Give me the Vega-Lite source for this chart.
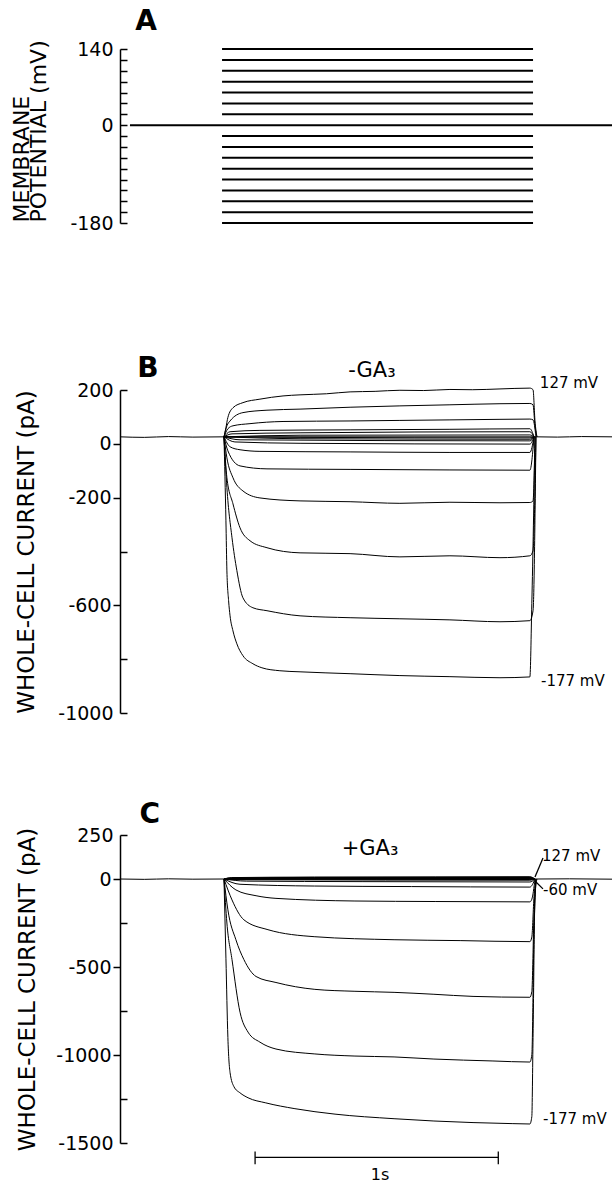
{
"$schema": "https://vega.github.io/schema/vega-lite/v6.json",
"width": 492, "height": 1183,
"autosize": {"type": "none"},
"padding": {"left": 120, "top": 0, "right": 4, "bottom": 0},
"background": "white",
"config": {
 "view": {"stroke": null},
 "axis": {"grid": false, "domainColor": "black", "domainWidth": 1.5, "tickColor": "black", "tickWidth": 1.5, "tickSize": -7, "labelPadding": 14, "labelColor": "black", "labelFont": "DejaVu Sans", "labelFontSize": 19, "labelOverlap": false, "labelFlush": false, "titleFont": "DejaVu Sans", "titleFontSize": 23, "titleFontWeight": "normal", "titleColor": "black"}
},
"datasets": {
 "stepsA": [
  {"v":140,"t1":420,"t2":1700},{"v":120,"t1":420,"t2":1700},{"v":100,"t1":420,"t2":1700},{"v":80,"t1":420,"t2":1700},{"v":60,"t1":420,"t2":1700},{"v":40,"t1":420,"t2":1700},{"v":20,"t1":420,"t2":1700},{"v":0,"t1":41,"t2":2025},{"v":-20,"t1":420,"t2":1700},{"v":-40,"t1":420,"t2":1700},{"v":-60,"t1":420,"t2":1700},{"v":-80,"t1":420,"t2":1700},{"v":-100,"t1":420,"t2":1700},{"v":-120,"t1":420,"t2":1700},{"v":-140,"t1":420,"t2":1700},{"v":-160,"t1":420,"t2":1700},{"v":-180,"t1":420,"t2":1700}
 ],
 "tracesB": [
  {"k":"base","t":0,"i":26},{"k":"base","t":100,"i":24},{"k":"base","t":200,"i":27},{"k":"base","t":300,"i":25},{"k":"base","t":428,"i":26},{"k":"base","t":1716,"i":26},{"k":"base","t":1800,"i":25},{"k":"base","t":1900,"i":27},{"k":"base","t":2025,"i":26},
  {"k":"p127","t":428,"i":26},{"k":"p127","t":436,"i":60},{"k":"p127","t":444,"i":98},{"k":"p127","t":465,"i":134},{"k":"p127","t":506,"i":153},{"k":"p127","t":576,"i":166},{"k":"p127","t":671,"i":178},{"k":"p127","t":741,"i":182},{"k":"p127","t":850,"i":186},{"k":"p127","t":947,"i":193},{"k":"p127","t":1050,"i":195},{"k":"p127","t":1152,"i":199},{"k":"p127","t":1250,"i":198},{"k":"p127","t":1358,"i":202},{"k":"p127","t":1450,"i":201},{"k":"p127","t":1564,"i":204},{"k":"p127","t":1687,"i":207},{"k":"p127","t":1700,"i":201},{"k":"p127","t":1708,"i":85},{"k":"p127","t":1716,"i":26},
  {"k":"p108","t":428,"i":26},{"k":"p108","t":440,"i":67},{"k":"p108","t":453,"i":85},{"k":"p108","t":506,"i":116},{"k":"p108","t":605,"i":125},{"k":"p108","t":741,"i":129},{"k":"p108","t":947,"i":136},{"k":"p108","t":1152,"i":141},{"k":"p108","t":1358,"i":145},{"k":"p108","t":1564,"i":149},{"k":"p108","t":1687,"i":150},{"k":"p108","t":1700,"i":145},{"k":"p108","t":1708,"i":67},{"k":"p108","t":1716,"i":26},
  {"k":"p89","t":428,"i":26},{"k":"p89","t":444,"i":56},{"k":"p89","t":465,"i":67},{"k":"p89","t":535,"i":75},{"k":"p89","t":671,"i":83},{"k":"p89","t":947,"i":85},{"k":"p89","t":1152,"i":87},{"k":"p89","t":1358,"i":89},{"k":"p89","t":1564,"i":91},{"k":"p89","t":1687,"i":92},{"k":"p89","t":1700,"i":89},{"k":"p89","t":1712,"i":26},
  {"k":"p70","t":428,"i":26},{"k":"p70","t":453,"i":45},{"k":"p70","t":576,"i":50},{"k":"p70","t":947,"i":52},{"k":"p70","t":1358,"i":54},{"k":"p70","t":1687,"i":56},{"k":"p70","t":1704,"i":26},
  {"k":"p51","t":428,"i":26},{"k":"p51","t":461,"i":37},{"k":"p51","t":741,"i":41},{"k":"p51","t":1687,"i":45},{"k":"p51","t":1704,"i":26},
  {"k":"p32","t":428,"i":26},{"k":"p32","t":741,"i":32},{"k":"p32","t":1687,"i":33},{"k":"p32","t":1704,"i":26},
  {"k":"p13","t":428,"i":26},{"k":"p13","t":741,"i":24},{"k":"p13","t":1687,"i":22},{"k":"p13","t":1704,"i":26},
  {"k":"m6","t":428,"i":26},{"k":"m6","t":741,"i":19},{"k":"m6","t":1687,"i":17},{"k":"m6","t":1704,"i":26},
  {"k":"m25","t":428,"i":26},{"k":"m25","t":494,"i":15},{"k":"m25","t":1687,"i":11},{"k":"m25","t":1704,"i":26},
  {"k":"m44","t":428,"i":26},{"k":"m44","t":473,"i":7},{"k":"m44","t":741,"i":2},{"k":"m44","t":1687,"i":-1},{"k":"m44","t":1704,"i":26},
  {"k":"m63","t":428,"i":26},{"k":"m63","t":453,"i":-11},{"k":"m63","t":494,"i":-22},{"k":"m63","t":576,"i":-28},{"k":"m63","t":947,"i":-30},{"k":"m63","t":1358,"i":-32},{"k":"m63","t":1687,"i":-32},{"k":"m63","t":1704,"i":26},
  {"k":"m82","t":428,"i":26},{"k":"m82","t":444,"i":-26},{"k":"m82","t":494,"i":-82},{"k":"m82","t":605,"i":-93},{"k":"m82","t":947,"i":-95},{"k":"m82","t":1358,"i":-97},{"k":"m82","t":1687,"i":-98},{"k":"m82","t":1704,"i":26},
  {"k":"m101","t":428,"i":26},{"k":"m101","t":440,"i":-52},{"k":"m101","t":465,"i":-126},{"k":"m101","t":506,"i":-175},{"k":"m101","t":576,"i":-201},{"k":"m101","t":741,"i":-212},{"k":"m101","t":947,"i":-215},{"k":"m101","t":1152,"i":-221},{"k":"m101","t":1358,"i":-217},{"k":"m101","t":1564,"i":-219},{"k":"m101","t":1687,"i":-218},{"k":"m101","t":1700,"i":-212},{"k":"m101","t":1708,"i":26},
  {"k":"m120","t":428,"i":26},{"k":"m120","t":440,"i":-126},{"k":"m120","t":465,"i":-223},{"k":"m120","t":494,"i":-312},{"k":"m120","t":535,"i":-360},{"k":"m120","t":605,"i":-386},{"k":"m120","t":741,"i":-405},{"k":"m120","t":947,"i":-408},{"k":"m120","t":1152,"i":-420},{"k":"m120","t":1358,"i":-416},{"k":"m120","t":1564,"i":-423},{"k":"m120","t":1687,"i":-416},{"k":"m120","t":1700,"i":-397},{"k":"m120","t":1712,"i":26},
  {"k":"m139","t":428,"i":26},{"k":"m139","t":440,"i":-163},{"k":"m139","t":461,"i":-349},{"k":"m139","t":481,"i":-471},{"k":"m139","t":506,"i":-572},{"k":"m139","t":547,"i":-609},{"k":"m139","t":605,"i":-620},{"k":"m139","t":741,"i":-639},{"k":"m139","t":947,"i":-646},{"k":"m139","t":1152,"i":-650},{"k":"m139","t":1358,"i":-654},{"k":"m139","t":1564,"i":-661},{"k":"m139","t":1687,"i":-657},{"k":"m139","t":1700,"i":-620},{"k":"m139","t":1712,"i":26},
  {"k":"m177","t":428,"i":26},{"k":"m177","t":436,"i":-286},{"k":"m177","t":440,"i":-472},{"k":"m177","t":447,"i":-583},{"k":"m177","t":453,"i":-639},{"k":"m177","t":465,"i":-695},{"k":"m177","t":481,"i":-743},{"k":"m177","t":506,"i":-787},{"k":"m177","t":547,"i":-817},{"k":"m177","t":584,"i":-832},{"k":"m177","t":658,"i":-843},{"k":"m177","t":741,"i":-847},{"k":"m177","t":947,"i":-854},{"k":"m177","t":1152,"i":-861},{"k":"m177","t":1358,"i":-865},{"k":"m177","t":1564,"i":-869},{"k":"m177","t":1687,"i":-866},{"k":"m177","t":1695,"i":-594},{"k":"m177","t":1708,"i":26}
 ],
 "tracesC": [
  {"k":"base","t":0,"i":0},{"k":"base","t":100,"i":-2},{"k":"base","t":200,"i":1},{"k":"base","t":300,"i":-1},{"k":"base","t":428,"i":0},{"k":"base","t":1716,"i":0},{"k":"base","t":1850,"i":1},{"k":"base","t":2025,"i":-1},
  {"k":"p127","t":428,"i":0},{"k":"p127","t":460,"i":8},{"k":"p127","t":800,"i":11},{"k":"p127","t":1300,"i":12},{"k":"p127","t":1687,"i":13},{"k":"p127","t":1708,"i":0},
  {"k":"p108","t":428,"i":0},{"k":"p108","t":460,"i":7},{"k":"p108","t":800,"i":9},{"k":"p108","t":1687,"i":10},{"k":"p108","t":1708,"i":0},
  {"k":"p89","t":428,"i":0},{"k":"p89","t":800,"i":7},{"k":"p89","t":1687,"i":8},{"k":"p89","t":1708,"i":0},
  {"k":"p70","t":428,"i":0},{"k":"p70","t":800,"i":5},{"k":"p70","t":1687,"i":6},{"k":"p70","t":1708,"i":0},
  {"k":"p51","t":428,"i":0},{"k":"p51","t":1687,"i":4},{"k":"p51","t":1708,"i":0},
  {"k":"p32","t":428,"i":0},{"k":"p32","t":1687,"i":2},{"k":"p32","t":1708,"i":0},
  {"k":"m25","t":428,"i":0},{"k":"m25","t":1687,"i":-3},{"k":"m25","t":1708,"i":0},
  {"k":"m44","t":428,"i":0},{"k":"m44","t":500,"i":-4},{"k":"m44","t":1687,"i":-7},{"k":"m44","t":1708,"i":0},
  {"k":"m63","t":428,"i":0},{"k":"m63","t":520,"i":-12},{"k":"m63","t":1000,"i":-15},{"k":"m63","t":1687,"i":-17},{"k":"m63","t":1708,"i":0},
  {"k":"m82","t":428,"i":0},{"k":"m82","t":494,"i":-30},{"k":"m82","t":800,"i":-40},{"k":"m82","t":1200,"i":-43},{"k":"m82","t":1687,"i":-46},{"k":"m82","t":1708,"i":0},
  {"k":"m101","t":428,"i":0},{"k":"m101","t":477,"i":-62},{"k":"m101","t":560,"i":-95},{"k":"m101","t":642,"i":-110},{"k":"m101","t":967,"i":-125},{"k":"m101","t":1300,"i":-128},{"k":"m101","t":1687,"i":-130},{"k":"m101","t":1695,"i":-115},{"k":"m101","t":1708,"i":0},
  {"k":"m120","t":428,"i":0},{"k":"m120","t":461,"i":-119},{"k":"m120","t":510,"i":-232},{"k":"m120","t":609,"i":-288},{"k":"m120","t":802,"i":-328},{"k":"m120","t":1128,"i":-345},{"k":"m120","t":1400,"i":-350},{"k":"m120","t":1687,"i":-356},{"k":"m120","t":1695,"i":-330},{"k":"m120","t":1704,"i":-100},{"k":"m120","t":1712,"i":0},
  {"k":"m139","t":428,"i":0},{"k":"m139","t":444,"i":-175},{"k":"m139","t":477,"i":-345},{"k":"m139","t":510,"i":-458},{"k":"m139","t":560,"i":-554},{"k":"m139","t":642,"i":-588},{"k":"m139","t":802,"i":-627},{"k":"m139","t":967,"i":-638},{"k":"m139","t":1128,"i":-644},{"k":"m139","t":1292,"i":-655},{"k":"m139","t":1453,"i":-667},{"k":"m139","t":1687,"i":-672},{"k":"m139","t":1695,"i":-640},{"k":"m139","t":1704,"i":-200},{"k":"m139","t":1712,"i":0},
  {"k":"m158","t":428,"i":0},{"k":"m158","t":440,"i":-250},{"k":"m158","t":461,"i":-458},{"k":"m158","t":494,"i":-757},{"k":"m158","t":527,"i":-870},{"k":"m158","t":576,"i":-927},{"k":"m158","t":642,"i":-966},{"k":"m158","t":802,"i":-994},{"k":"m158","t":967,"i":-1006},{"k":"m158","t":1128,"i":-1011},{"k":"m158","t":1292,"i":-1023},{"k":"m158","t":1535,"i":-1034},{"k":"m158","t":1687,"i":-1040},{"k":"m158","t":1695,"i":-1000},{"k":"m158","t":1704,"i":-300},{"k":"m158","t":1712,"i":0},
  {"k":"m177","t":428,"i":0},{"k":"m177","t":436,"i":-450},{"k":"m177","t":444,"i":-900},{"k":"m177","t":453,"i":-1100},{"k":"m177","t":469,"i":-1180},{"k":"m177","t":494,"i":-1215},{"k":"m177","t":527,"i":-1243},{"k":"m177","t":600,"i":-1272},{"k":"m177","t":720,"i":-1305},{"k":"m177","t":885,"i":-1336},{"k":"m177","t":1128,"i":-1362},{"k":"m177","t":1292,"i":-1375},{"k":"m177","t":1453,"i":-1384},{"k":"m177","t":1617,"i":-1390},{"k":"m177","t":1687,"i":-1392},{"k":"m177","t":1695,"i":-1350},{"k":"m177","t":1700,"i":-900},{"k":"m177","t":1708,"i":-100},{"k":"m177","t":1716,"i":0}
 ]
},
"resolve": {"scale": {"y": "independent"}, "axis": {"y": "independent"}},
"layer": [
 {
  "layer": [
   {
    "data": {"name": "stepsA"},
    "mark": {"type": "rule", "color": "black", "strokeWidth": 2},
    "encoding": {
     "x": {"field": "t1", "type": "quantitative", "scale": {"domain": [0, 2025], "nice": false, "zero": false}, "axis": null},
     "x2": {"field": "t2"},
     "y": {"field": "v", "type": "quantitative", "scale": {"domain": [-180, 140], "range": [223, 49], "nice": false, "zero": false},
      "axis": {"orient": "left", "values": [140,120,100,80,60,40,20,0,-20,-40,-60,-80,-100,-120,-140,-160,-180], "labelExpr": "datum.value == 140 || datum.value == 0 || datum.value == -180 ? toString(datum.value) : ''", "title": ["MEMBRANE", "POTENTIAL (mV)"], "titleFontSize": 22, "titleX": -92, "titleY": 222, "titleAlign": "left", "titleBaseline": "alphabetic", "titleLineHeight": 17, "titleAngle": -90}}
    }
   },
   {
    "data": {"values": [{"t": 107, "v": 190, "s": "A"}]},
    "mark": {"type": "text", "font": "DejaVu Sans", "fontSize": 28, "fontWeight": "bold", "align": "center", "baseline": "middle", "color": "black"},
    "encoding": {
     "x": {"field": "t", "type": "quantitative", "scale": {"domain": [0, 2025], "nice": false, "zero": false}, "axis": null},
     "y": {"field": "v", "type": "quantitative", "scale": {"domain": [-180, 140], "range": [223, 49], "nice": false, "zero": false}},
     "text": {"field": "s"}
    }
   }
  ]
 },
 {
  "layer": [
   {
    "data": {"name": "tracesB"},
    "mark": {"type": "line", "color": "black", "strokeWidth": 1, "interpolate": "monotone"},
    "encoding": {
     "x": {"field": "t", "type": "quantitative", "scale": {"domain": [0, 2025], "nice": false, "zero": false}, "axis": null},
     "y": {"field": "i", "type": "quantitative", "scale": {"domain": [-1000, 200], "range": [713, 390], "nice": false, "zero": false},
      "axis": {"orient": "left", "values": [200,0,-200,-400,-600,-800,-1000], "labelExpr": "datum.value == -400 || datum.value == -800 ? '' : toString(datum.value)",
       "tickSize": {"condition": {"test": "datum.value == 0 || datum.value == -200 || datum.value == -600", "value": 7}, "value": -7},
       "labelPadding": {"condition": {"test": "datum.value == 0 || datum.value == -200 || datum.value == -600", "value": 2}, "value": 14},
       "title": "WHOLE-CELL CURRENT (pA)", "titleX": -87, "titleBaseline": "alphabetic", "titleAngle": -90}},
     "detail": {"field": "k"}
    }
   },
   {
    "data": {"values": [{"t": 115, "i": 278, "s": "B"}]},
    "mark": {"type": "text", "font": "DejaVu Sans", "fontSize": 28, "fontWeight": "bold", "align": "center", "baseline": "middle", "color": "black"},
    "encoding": {
     "x": {"field": "t", "type": "quantitative", "scale": {"domain": [0, 2025], "nice": false, "zero": false}, "axis": null},
     "y": {"field": "i", "type": "quantitative", "scale": {"domain": [-1000, 200], "range": [713, 390], "nice": false, "zero": false}},
     "text": {"field": "s"}
    }
   },
   {
    "data": {"values": [{"t": 1037, "i": 271, "s": "-GA₃"}]},
    "mark": {"type": "text", "font": "DejaVu Sans", "fontSize": 21, "align": "center", "baseline": "middle", "color": "black"},
    "encoding": {
     "x": {"field": "t", "type": "quantitative", "scale": {"domain": [0, 2025], "nice": false, "zero": false}, "axis": null},
     "y": {"field": "i", "type": "quantitative", "scale": {"domain": [-1000, 200], "range": [713, 390], "nice": false, "zero": false}},
     "text": {"field": "s"}
    }
   },
   {
    "data": {"values": [{"t": 1728, "i": 227, "s": "127 mV"}, {"t": 1733, "i": -880, "s": "-177 mV"}]},
    "mark": {"type": "text", "font": "DejaVu Sans", "fontSize": 15, "align": "left", "baseline": "middle", "color": "black"},
    "encoding": {
     "x": {"field": "t", "type": "quantitative", "scale": {"domain": [0, 2025], "nice": false, "zero": false}, "axis": null},
     "y": {"field": "i", "type": "quantitative", "scale": {"domain": [-1000, 200], "range": [713, 390], "nice": false, "zero": false}},
     "text": {"field": "s"}
    }
   }
  ]
 },
 {
  "layer": [
   {
    "data": {"name": "tracesC"},
    "mark": {"type": "line", "color": "black", "strokeWidth": 1, "interpolate": "monotone"},
    "encoding": {
     "x": {"field": "t", "type": "quantitative", "scale": {"domain": [0, 2025], "nice": false, "zero": false}, "axis": null},
     "y": {"field": "i", "type": "quantitative", "scale": {"domain": [-1500, 250], "range": [1143, 835], "nice": false, "zero": false},
      "axis": {"orient": "left", "values": [250,0,-250,-500,-750,-1000,-1250,-1500], "labelExpr": "datum.value == -250 || datum.value == -750 || datum.value == -1250 ? '' : toString(datum.value)",
       "tickSize": {"condition": {"test": "datum.value == 0 || datum.value == -500 || datum.value == -1000", "value": 7}, "value": -7},
       "labelPadding": {"condition": {"test": "datum.value == 0 || datum.value == -500 || datum.value == -1000", "value": 2}, "value": 14},
       "title": "WHOLE-CELL CURRENT (pA)", "titleX": -86, "titleBaseline": "alphabetic", "titleAngle": -90}},
     "detail": {"field": "k"}
    }
   },
   {
    "data": {"values": [{"t": 1708, "t2": 1741, "i": 11, "i2": 119}, {"t": 1708, "t2": 1741, "i": -11, "i2": -56}, {"t": 556, "t2": 1557, "i": -1582, "i2": -1582}, {"t": 556, "t2": 556, "i": -1548, "i2": -1621}, {"t": 1557, "t2": 1557, "i": -1548, "i2": -1621}]},
    "mark": {"type": "rule", "color": "black", "strokeWidth": 1.3},
    "encoding": {
     "x": {"field": "t", "type": "quantitative", "scale": {"domain": [0, 2025], "nice": false, "zero": false}, "axis": null},
     "x2": {"field": "t2"},
     "y": {"field": "i", "type": "quantitative", "scale": {"domain": [-1500, 250], "range": [1143, 835], "nice": false, "zero": false}},
     "y2": {"field": "i2"}
    }
   },
   {
    "data": {"values": [{"t": 123, "i": 362, "s": "C"}]},
    "mark": {"type": "text", "font": "DejaVu Sans", "fontSize": 28, "fontWeight": "bold", "align": "center", "baseline": "middle", "color": "black"},
    "encoding": {
     "x": {"field": "t", "type": "quantitative", "scale": {"domain": [0, 2025], "nice": false, "zero": false}, "axis": null},
     "y": {"field": "i", "type": "quantitative", "scale": {"domain": [-1500, 250], "range": [1143, 835], "nice": false, "zero": false}},
     "text": {"field": "s"}
    }
   },
   {
    "data": {"values": [{"t": 1029, "i": 169, "s": "+GA₃"}]},
    "mark": {"type": "text", "font": "DejaVu Sans", "fontSize": 21, "align": "center", "baseline": "middle", "color": "black"},
    "encoding": {
     "x": {"field": "t", "type": "quantitative", "scale": {"domain": [0, 2025], "nice": false, "zero": false}, "axis": null},
     "y": {"field": "i", "type": "quantitative", "scale": {"domain": [-1500, 250], "range": [1143, 835], "nice": false, "zero": false}},
     "text": {"field": "s"}
    }
   },
   {
    "data": {"values": [{"t": 1070, "i": -1680, "s": "1s"}]},
    "mark": {"type": "text", "font": "DejaVu Sans", "fontSize": 16, "align": "center", "baseline": "middle", "color": "black"},
    "encoding": {
     "x": {"field": "t", "type": "quantitative", "scale": {"domain": [0, 2025], "nice": false, "zero": false}, "axis": null},
     "y": {"field": "i", "type": "quantitative", "scale": {"domain": [-1500, 250], "range": [1143, 835], "nice": false, "zero": false}},
     "text": {"field": "s"}
    }
   },
   {
    "data": {"values": [{"t": 1737, "i": 130, "s": "127 mV"}, {"t": 1741, "i": -62, "s": "-60 mV"}, {"t": 1741, "i": -1362, "s": "-177 mV"}]},
    "mark": {"type": "text", "font": "DejaVu Sans", "fontSize": 15, "align": "left", "baseline": "middle", "color": "black"},
    "encoding": {
     "x": {"field": "t", "type": "quantitative", "scale": {"domain": [0, 2025], "nice": false, "zero": false}, "axis": null},
     "y": {"field": "i", "type": "quantitative", "scale": {"domain": [-1500, 250], "range": [1143, 835], "nice": false, "zero": false}},
     "text": {"field": "s"}
    }
   }
  ]
 }
]
}
